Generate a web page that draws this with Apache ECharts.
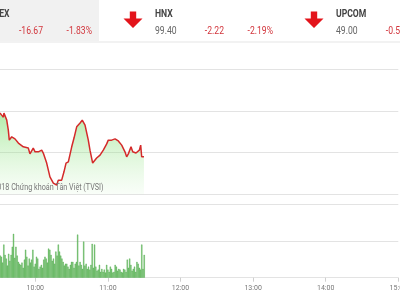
<!DOCTYPE html>
<html><head><meta charset="utf-8">
<script src="https://cdn.jsdelivr.net/npm/echarts@6/dist/echarts.min.js"></script>
<style>html,body{margin:0;padding:0;background:#fff}#c{width:400px;height:300px}</style>
</head><body><div id="c"></div>
<script>
// ---- data ----
// minutes after 09:00
const lineMinutes = [30.8,32.2,33.6,34.1,36.4,37.7,38.5,40.5,43.2,46.0,50.1,54.2,55.6,58.3,59.8,62.5,65.3,66.6,69.4,72.1,74.9,77.7,79.0,81.8,83.7,85.4,87.3,90.1,92.0,94.2,97.0,98.8,101.1,103.8,105.2,107.4,110.7,113.5,116.2,119.0,120.3,123.1,125.9,128.6,131.4,134.1,135.5,136.9,139.1,140.5,143.2,146.0,147.1,147.9,149.8];
const lineValues = [909.5,909.0,908.5,909.5,907.8,905.4,903.0,903.8,903.3,902.3,901.4,901.1,899.7,901.1,900.2,900.2,900.6,899.9,897.5,894.2,892.7,892.2,893.4,893.4,895.4,897.5,897.8,901.4,903.5,906.2,907.1,907.8,906.6,903.0,900.6,897.5,898.7,899.4,900.6,902.1,903.0,903.0,903.3,902.8,901.8,900.2,899.0,899.7,901.4,900.2,899.9,900.6,901.8,899.0,899.0];
const volStartMinute = 31;
const volumes = [6.0,5.7,4.1,9.0,6.2,5.2,3.3,6.5,4.6,6.2,8.4,11.9,5.4,8.4,6.0,4.3,3.8,3.5,4.1,2.7,
  4.9,7.6,5.7,3.3,5.2,4.1,4.9,7.6,3.0,3.8,5.7,5.2,2.4,3.0,3.5,2.7,4.9,5.7,5.2,4.1,
  7.9,7.6,6.2,4.6,5.2,3.8,7.1,6.0,9.0,7.1,6.0,5.2,4.3,3.3,3.8,3.8,3.0,2.4,3.5,4.3,
  4.3,2.7,3.8,4.3,11.7,3.3,4.3,3.5,2.4,9.8,3.3,3.8,2.4,3.0,2.2,3.5,9.2,2.7,9.0,3.0,
  1.9,2.2,3.5,1.6,2.4,1.6,2.2,1.4,3.5,2.2,1.6,3.0,2.4,1.4,1.6,3.5,3.0,1.9,2.4,2.2,
  1.6,1.4,2.4,2.2,1.6,4.9,2.7,5.2,3.5,1.9,2.4,3.0,1.6,4.3,3.8,2.7,2.2,9.0,2.4,6.2];
const hourLabels = ['09:00','10:00','11:00','12:00','13:00','14:00','15:00'];
const indexNames = ['VN-INDEX','HNX','UPCOM'];
const indexValues = ['', '99.40', '49.00'];
const indexChanges = ['-16.67','-2.22','-0.55'];
const indexPercents = ['-1.83%','-2.19%','-0.56%'];
const watermark = '©2018 Chứng khoán Tân Việt (TVSI)';

// ---- build ----
const lineData = lineMinutes.map((m,i)=>[m, lineValues[i]]);
const volData = volumes.map((v,i)=>[volStartMinute+i, v]);

const FONT = 'Roboto, "Liberation Sans", sans-serif';
const SX = 0.82;
const graphics = [
  {type:'rect', shape:{x:0,y:0,width:99,height:41}, style:{fill:'#f1f1f1'}, z:0},
  {type:'rect', shape:{x:0,y:41.5,width:400,height:1}, style:{fill:'#e6e6e6'}, z:0}
];
const groupX = [-26, 155, 336];
function txt(x, y, text, fill, font, align){
  return {type:'text', x:x, y:y, scaleX:SX, style:{text:text, fill:fill, font:font, textAlign:align, textVerticalAlign:'middle'}};
}
for (let i=0;i<3;i++){
  const gx = groupX[i];
  if (i===0){
    graphics.push(txt(9.5, 14, indexNames[i], '#444', 'bold 10.5px '+FONT, 'right'));
  } else {
    graphics.push(txt(gx, 14, indexNames[i], '#444', 'bold 10.5px '+FONT, 'left'));
  }
  graphics.push(txt(gx, 31.5, indexValues[i], '#666', '10.5px '+FONT, 'left'));
  graphics.push(txt(gx+69, 31.5, indexChanges[i], '#d2353c', '10.5px '+FONT, 'right'));
  graphics.push(txt(gx+118, 31.5, indexPercents[i], '#d2353c', '10.5px '+FONT, 'right'));
  if (i<2){
    const ax = gx + 159;
    graphics.push({type:'polygon', shape:{points:[[ax-3.2,11.5],[ax+3.2,11.5],[ax+3.2,18.5],[ax+9.5,18.5],[ax,28],[ax-9.5,18.5],[ax-3.2,18.5]]}, style:{fill:'#e3141b'}});
  }
}
graphics.push({type:'text', x:103.5, y:187.5, scaleX:0.8, style:{text:watermark, fill:'#777', font:'9px '+FONT, textAlign:'right', textVerticalAlign:'middle'}, z:100});

const chart = echarts.init(document.getElementById('c'), null, {renderer:'canvas'});
chart.setOption({
  animation:false,
  backgroundColor:'#fff',
  grid:[
    {left:-37.3, right:1.7, top:69.3, bottom:105.7, outerBoundsMode:'none', containLabel:false},
    {left:-37.3, right:1.7, top:204, bottom:22.3, outerBoundsMode:'none', containLabel:false}
  ],
  xAxis:[
    {type:'value', gridIndex:0, min:0, max:360, interval:60, axisLabel:{show:false}, axisTick:{show:false}, axisLine:{show:false}, splitLine:{show:false}},
    {type:'value', gridIndex:1, min:0, max:360, interval:60,
      axisLabel:{show:true, formatter:(v)=>hourLabels[Math.round(v/60)], fontSize:7, color:'#777', margin:7, fontFamily:FONT, hideOverlap:false},
      axisTick:{show:true, length:4, lineStyle:{color:'#cfcfcf'}}, axisLine:{show:false}, splitLine:{show:false}}
  ],
  yAxis:[
    {type:'value', gridIndex:0, min:890, max:920, interval:10, position:'right', axisLabel:{show:false}, axisTick:{show:false},
      axisLine:{show:true, lineStyle:{color:'#e3e3e3'}}, splitLine:{show:true, lineStyle:{color:'#e3e3e3'}}},
    {type:'value', gridIndex:1, min:0, max:20, interval:10, position:'right', axisLabel:{show:false}, axisTick:{show:false},
      axisLine:{show:true, lineStyle:{color:'#e3e3e3'}}, splitLine:{show:true, lineStyle:{color:'#e3e3e3'}}}
  ],
  series:[
    {type:'line', xAxisIndex:0, yAxisIndex:0, data:lineData, showSymbol:false, symbol:'none',
      lineStyle:{color:'#d42a2a', width:1.5},
      areaStyle:{color:new echarts.graphic.LinearGradient(0,0,0,1,[{offset:0,color:'rgba(105,215,85,0.72)'},{offset:1,color:'rgba(170,235,160,0.1)'}])}},
    {type:'bar', xAxisIndex:1, yAxisIndex:1, data:volData, barWidth:1.2, itemStyle:{color:'#78c570', borderColor:'#4aa646', borderWidth:0.4}}
  ],
  graphic:graphics
});
</script></body></html>
